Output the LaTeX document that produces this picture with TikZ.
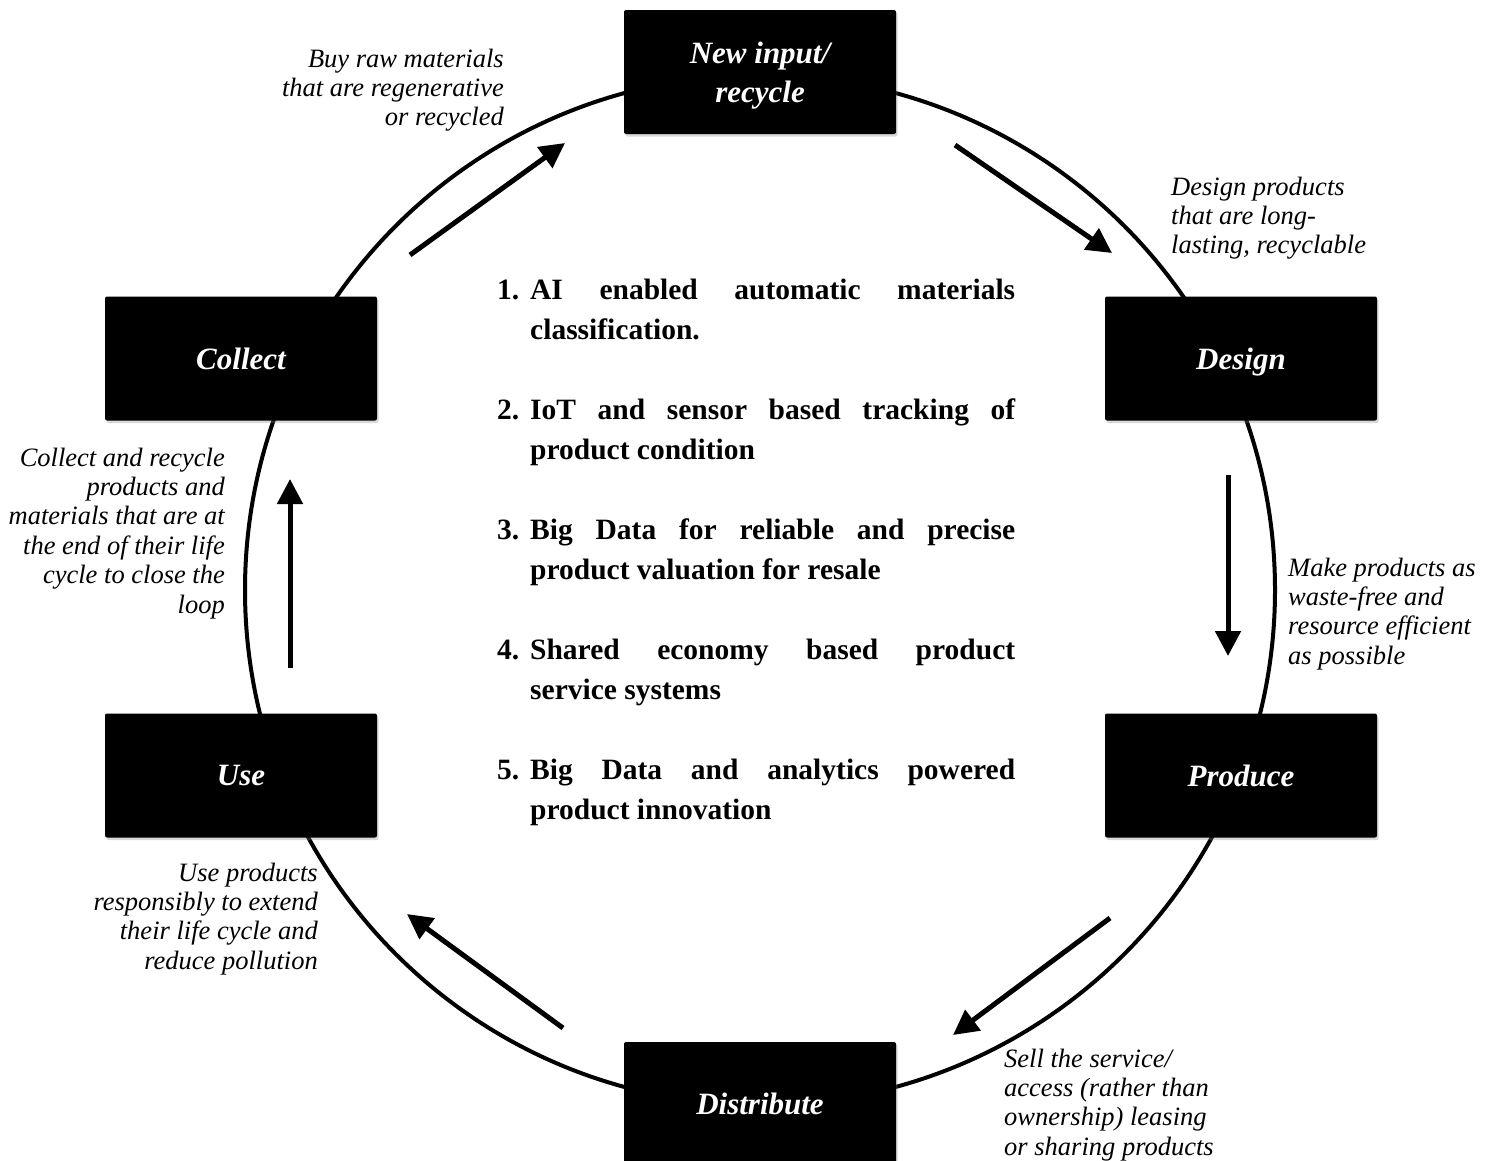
\documentclass[tikz,border=0pt]{standalone}
\usepackage{fontspec}
\setmainfont{Liberation Serif}
\usetikzlibrary{arrows.meta,shadows}
\begin{document}
\begin{tikzpicture}[x=1pt,y=-1pt,
  stage/.style={fill=black, rounded corners=2pt, minimum width=272pt, minimum height=124pt,
    inner sep=0pt, text=white, align=center, text depth=0pt,
    font=\fontsize{31}{39}\selectfont\bfseries\itshape,
    drop shadow={opacity=0.3,shadow xshift=1.5pt,shadow yshift=-2.5pt}},
  note/.style={inner sep=0pt, font=\fontsize{26.5}{29.4}\selectfont\itshape},
  flow/.style={line width=5pt, -{Triangle[width=25pt,length=25pt]}},
  item/.style={inner sep=0pt, anchor=base west, text width=518pt, align=justify,
    font=\fontsize{29.5}{40}\selectfont\bfseries},
  ring/.style={line width=4pt}
]
\useasboundingbox (0,0) rectangle (1493,1160);
\draw[ring] (760,590) circle[radius=515pt];

\node[stage] (new) at (760,72) {New input/\\recycle};
\node[stage] (design) at (1241,358.5) {Design};
\node[stage] (produce) at (1241,775.5) {Produce};
\node[stage] (distribute) at (760,1104) {Distribute};
\node[stage] (use) at (241,775.5) {Use};
\node[stage] (collect) at (241,358.5) {Collect};

\coordinate (a1s) at (955,145);   \coordinate (a1e) at (1112,253);
\coordinate (a2s) at (1228,475);  \coordinate (a2e) at (1228,656);
\coordinate (a3s) at (1110,918);  \coordinate (a3e) at (953,1035);
\coordinate (a4s) at (563,1028);  \coordinate (a4e) at (407,914);
\coordinate (a5s) at (290,668);   \coordinate (a5e) at (290,479);
\coordinate (a6s) at (410,255);   \coordinate (a6e) at (565,143);
\draw[flow] (a1s) -- (a1e);
\draw[flow] (a2s) -- (a2e);
\draw[flow] (a3s) -- (a3e);
\draw[flow] (a4s) -- (a4e);
\draw[flow] (a5s) -- (a5e);
\draw[flow] (a6s) -- (a6e);

% base anchor of these nodes = baseline of their last line
\node[note, align=right, anchor=base east] (nbuy) at (504,125.8) {Buy raw materials\\that are regenerative\\or recycled};
\node[note, align=left, anchor=base west] (ndesign) at (1171,253.8) {Design products\\that are long-\\lasting, recyclable};
\node[note, align=left, anchor=base west] (nmake) at (1288,664.2) {Make products as\\waste-free and\\resource efficient\\as possible};
\node[note, align=left, anchor=base west] (nsell) at (1004,1155.2) {Sell the service/\\access (rather than\\ownership) leasing\\or sharing products};
\node[note, align=right, anchor=base east] (nuse) at (318,969.2) {Use products\\responsibly to extend\\their life cycle and\\reduce pollution};
\node[note, align=right, anchor=base east] (ncollect) at (225,613) {Collect and recycle\\products and\\materials that are at\\the end of their life\\cycle to close the\\loop};

\node[item] (i1) at (497,299) {\hangindent=33pt\hangafter=1 \makebox[33pt][l]{1.}AI enabled automatic materials\linebreak classification.\par};
\node[item] (i2) at (497,419) {\hangindent=33pt\hangafter=1 \makebox[33pt][l]{2.}IoT and sensor based tracking of\linebreak product condition\par};
\node[item] (i3) at (497,539) {\hangindent=33pt\hangafter=1 \makebox[33pt][l]{3.}Big Data for reliable and precise\linebreak product valuation for resale\par};
\node[item] (i4) at (497,659) {\hangindent=33pt\hangafter=1 \makebox[33pt][l]{4.}Shared economy based product\linebreak service systems\par};
\node[item] (i5) at (497,779) {\hangindent=33pt\hangafter=1 \makebox[33pt][l]{5.}Big Data and analytics powered\linebreak product innovation\par};
\end{tikzpicture}
\end{document}
